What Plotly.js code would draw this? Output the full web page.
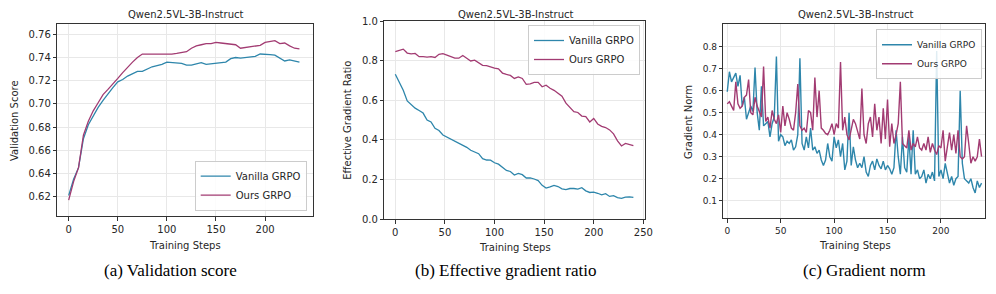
<!DOCTYPE html>
<html>
<head>
<meta charset="utf-8">
<script src="https://cdn.plot.ly/plotly-3.0.1.min.js"></script>
<style>html,body{margin:0;padding:0;background:#fff;}#chart{width:996px;height:294px;}</style>
</head>
<body>
<div id="chart"></div>
<script>
// ---------- data ----------
const chartTitle = "Qwen2.5VL-3B-Instruct";
const seriesNames = ["Vanilla GRPO", "Ours GRPO"];
const captions = ["(a) Validation score", "(b) Effective gradient ratio", "(c) Gradient norm"];

// (a) validation score, every 5 steps
const steps1 = [0,5,10,15,20,25,30,35,40,45,50,55,60,65,70,75,80,85,90,95,100,105,110,115,120,125,130,135,140,145,150,155,160,165,170,175,180,185,190,195,200,205,210,215,220,225,230,235];
const vanilla1 = [0.621,0.635,0.645,0.670,0.682,0.690,0.697,0.703,0.709,0.714,0.719,0.721,0.724,0.726,0.728,0.728,0.730,0.732,0.733,0.734,0.736,0.7355,0.735,0.735,0.7335,0.7335,0.7345,0.7355,0.734,0.7345,0.735,0.735,0.736,0.739,0.740,0.7395,0.740,0.7405,0.741,0.743,0.743,0.7425,0.742,0.7395,0.737,0.738,0.737,0.736];
const ours1 = [0.617,0.633,0.645,0.673,0.685,0.694,0.701,0.708,0.7125,0.717,0.722,0.727,0.732,0.736,0.740,0.743,0.743,0.743,0.743,0.7425,0.743,0.743,0.7435,0.744,0.745,0.748,0.750,0.751,0.752,0.752,0.753,0.7525,0.752,0.7515,0.751,0.748,0.7485,0.749,0.750,0.7505,0.753,0.754,0.7545,0.752,0.7525,0.750,0.748,0.7475];

// (b) effective gradient ratio, every 4 steps
const steps2 = [0,4,8,12,16,20,24,28,32,36,40,44,48,52,56,60,64,68,72,76,80,84,88,92,96,100,104,108,112,116,120,124,128,132,136,140,144,148,152,156,160,164,168,172,176,180,184,188,192,196,200,204,208,212,216,220,224,228,232,236,240];
const vanilla2 = [0.731,0.694,0.650,0.596,0.577,0.560,0.548,0.535,0.500,0.490,0.458,0.447,0.424,0.414,0.406,0.396,0.382,0.372,0.362,0.347,0.340,0.330,0.305,0.298,0.297,0.284,0.277,0.259,0.245,0.240,0.222,0.230,0.224,0.207,0.208,0.202,0.194,0.170,0.156,0.162,0.170,0.164,0.152,0.148,0.154,0.154,0.151,0.158,0.142,0.134,0.136,0.130,0.122,0.128,0.114,0.118,0.108,0.104,0.110,0.112,0.109];
const ours2 = [0.845,0.852,0.858,0.838,0.834,0.836,0.820,0.820,0.818,0.820,0.816,0.832,0.835,0.828,0.820,0.812,0.812,0.826,0.812,0.798,0.802,0.788,0.776,0.775,0.768,0.762,0.758,0.737,0.730,0.725,0.710,0.718,0.710,0.680,0.683,0.690,0.690,0.668,0.676,0.660,0.650,0.635,0.620,0.585,0.565,0.542,0.538,0.520,0.517,0.490,0.508,0.480,0.468,0.462,0.450,0.430,0.395,0.369,0.382,0.376,0.370];

// (c) gradient norm, every 2 steps
const steps3 = [0,2,4,6,8,10,12,14,16,18,20,22,24,26,28,30,32,34,36,38,40,42,44,46,48,50,52,54,56,58,60,62,64,66,68,70,72,74,76,78,80,82,84,86,88,90,92,94,96,98,100,102,104,106,108,110,112,114,116,118,120,122,124,126,128,130,132,134,136,138,140,142,144,146,148,150,152,154,156,158,160,162,164,166,168,170,172,174,176,178,180,182,184,186,188,190,192,194,196,198,200,202,204,206,208,210,212,214,216,218,220,222,224,226,228,230,232,234,236,238];
const vanilla3 = [0.595,0.686,0.64,0.66,0.68,0.62,0.67,0.53,0.57,0.47,
  0.50,0.53,0.505,0.705,0.50,0.42,0.62,0.44,0.45,0.46,
  0.39,0.45,0.48,0.755,0.37,0.40,0.39,0.35,0.37,0.36,
  0.376,0.33,0.345,0.40,0.747,0.36,0.33,0.39,0.34,0.43,
  0.33,0.345,0.315,0.33,0.285,0.26,0.285,0.36,0.30,0.28,
  0.39,0.34,0.376,0.30,0.36,0.24,0.28,0.50,0.26,0.345,
  0.285,0.25,0.27,0.25,0.30,0.23,0.21,0.26,0.28,0.24,
  0.29,0.26,0.245,0.28,0.24,0.26,0.245,0.22,0.25,0.42,
  0.30,0.22,0.39,0.25,0.23,0.39,0.22,0.42,0.22,0.24,
  0.20,0.21,0.24,0.18,0.22,0.20,0.23,0.19,0.78,0.21,
  0.24,0.20,0.27,0.22,0.18,0.21,0.17,0.20,0.21,0.60,
  0.27,0.20,0.19,0.18,0.20,0.16,0.135,0.19,0.16,0.18];
const ours3 = [0.54,0.55,0.53,0.51,0.64,0.54,0.52,0.53,0.57,0.58,
  0.65,0.50,0.49,0.57,0.53,0.50,0.48,0.71,0.46,0.48,
  0.43,0.51,0.47,0.45,0.49,0.41,0.53,0.44,0.50,0.47,
  0.43,0.42,0.50,0.63,0.44,0.42,0.43,0.41,0.51,0.50,
  0.42,0.66,0.48,0.60,0.43,0.42,0.406,0.40,0.42,0.45,
  0.40,0.45,0.43,0.73,0.42,0.48,0.40,0.376,0.42,0.47,
  0.45,0.42,0.38,0.61,0.40,0.36,0.45,0.48,0.39,0.54,
  0.42,0.48,0.36,0.52,0.38,0.56,0.345,0.45,0.36,0.40,
  0.45,0.64,0.36,0.35,0.34,0.42,0.33,0.36,0.345,0.39,
  0.34,0.33,0.36,0.33,0.39,0.32,0.36,0.33,0.31,0.35,
  0.34,0.42,0.28,0.345,0.41,0.33,0.40,0.315,0.42,0.30,
  0.29,0.30,0.44,0.36,0.27,0.30,0.28,0.30,0.38,0.30];

const xTicks1 = [0,50,100,150,200];
const yTicks1 = [0.62,0.64,0.66,0.68,0.70,0.72,0.74,0.76];
const xTicks2 = [0,50,100,150,200,250];
const yTicks2 = [0.0,0.2,0.4,0.6,0.8,1.0];
const xTicks3 = [0,50,100,150,200];
const yTicks3 = [0.1,0.2,0.3,0.4,0.5,0.6,0.7,0.8];
const xLabel = "Training Steps";
const yLabels = ["Validation Score", "Effective Gradient Ratio", "Gradient Norm"];

// ---------- style ----------
const BLUE = "#2E86AB", MAG = "#A23B72";
const W = 996, H = 294;
const px = v => v / W, py = v => 1 - v / H;

function line(x, y, name, color, xa, ya, leg, w) {
  return {x, y, name, type: "scatter", mode: "lines", xaxis: xa, yaxis: ya, legend: leg,
          line: {color, width: w || 1.3}, hoverinfo: "skip"};
}
const traces = [
  line(steps1, vanilla1, seriesNames[0], BLUE, "x", "y", "legend"),
  line(steps1, ours1, seriesNames[1], MAG, "x", "y", "legend"),
  line(steps2, vanilla2, seriesNames[0], BLUE, "x2", "y2", "legend2"),
  line(steps2, ours2, seriesNames[1], MAG, "x2", "y2", "legend2"),
  line(steps3, vanilla3, seriesNames[0], BLUE, "x3", "y3", "legend3", 1.4),
  line(steps3, ours3, seriesNames[1], MAG, "x3", "y3", "legend3", 1.4),
];

function ax(extra, fs) {
  return Object.assign({
    showline: true, mirror: true, linecolor: "#333", linewidth: 1,
    ticks: "outside", ticklen: 3.5, tickwidth: 1, tickcolor: "#333",
    showgrid: true, gridcolor: "#e8e8e8", gridwidth: 1, zeroline: false,
    tickfont: {family: "DejaVu Sans", size: fs || 10, color: "#262626"},
    fixedrange: true
  }, extra);
}
const legBase = {bgcolor: "rgba(255,255,255,0.85)", bordercolor: "#cccccc", borderwidth: 1,
                 font: {family: "DejaVu Sans", size: 10, color: "#262626"}, tracegroupgap: 0};

function ann(text, x, y, opts) {
  return Object.assign({text, x: px(x), y: py(y), xref: "paper", yref: "paper", showarrow: false,
                        xanchor: "center", yanchor: "middle",
                        font: {family: "DejaVu Sans", size: 10, color: "#262626"}}, opts || {});
}
const capFont = {family: "Liberation Serif", size: 17, color: "#000"};

const layout = {
  width: W, height: H, margin: {l: 0, r: 0, t: 0, b: 0},
  paper_bgcolor: "#fff", plot_bgcolor: "#fff", showlegend: true,
  font: {family: "DejaVu Sans", size: 10, color: "#262626"},
  xaxis: ax({domain: [px(57.3), px(312.7)], anchor: "y", range: [-11.6, 248.5], tickvals: xTicks1}),
  yaxis: ax({domain: [py(216), py(24)], anchor: "x", range: [0.6033, 0.7689], tickvals: yTicks1, tickformat: ".2f"}),
  xaxis2: ax({domain: [px(384.3), px(645)], anchor: "y2", range: [-11.1, 251.7], tickvals: xTicks2}),
  yaxis2: ax({domain: [py(219), py(21)], anchor: "x2", range: [0, 1], tickvals: yTicks2, tickformat: ".1f"}),
  xaxis3: ax({domain: [px(723.3), px(985.3)], anchor: "y3", range: [-3.7, 241.5], tickvals: xTicks3}, 9),
  yaxis3: ax({domain: [py(218.3), py(24)], anchor: "x3", range: [0.02, 0.903], tickvals: yTicks3, tickformat: ".1f"}, 9),
  legend: Object.assign({}, legBase, {x: px(306.7), xanchor: "right", y: py(210.7), yanchor: "bottom"}),
  legend2: Object.assign({}, legBase, {x: px(640), xanchor: "right", y: py(25), yanchor: "top"}),
  legend3: Object.assign({}, legBase, {x: px(982), xanchor: "right", y: py(29.3), yanchor: "top",
                         font: {family: "DejaVu Sans", size: 9, color: "#262626"}}),
  annotations: [
    ann(chartTitle, 185, 14), ann(chartTitle, 515, 14), ann(chartTitle, 855, 14),
    ann(xLabel, 185, 245), ann(xLabel, 515, 247), ann(xLabel, 854.5, 245),
    ann(yLabels[0], 14, 121, {textangle: -90}),
    ann(yLabels[1], 346.7, 120, {textangle: -90}),
    ann(yLabels[2], 688.3, 121.7, {textangle: -90}),
    ann(captions[0], 170, 270, {font: capFont}),
    ann(captions[1], 505, 270, {font: capFont}),
    ann(captions[2], 864, 270, {font: capFont}),
  ]
};

Plotly.newPlot("chart", traces, layout, {staticPlot: true, displayModeBar: false});
</script>
</body>
</html>
